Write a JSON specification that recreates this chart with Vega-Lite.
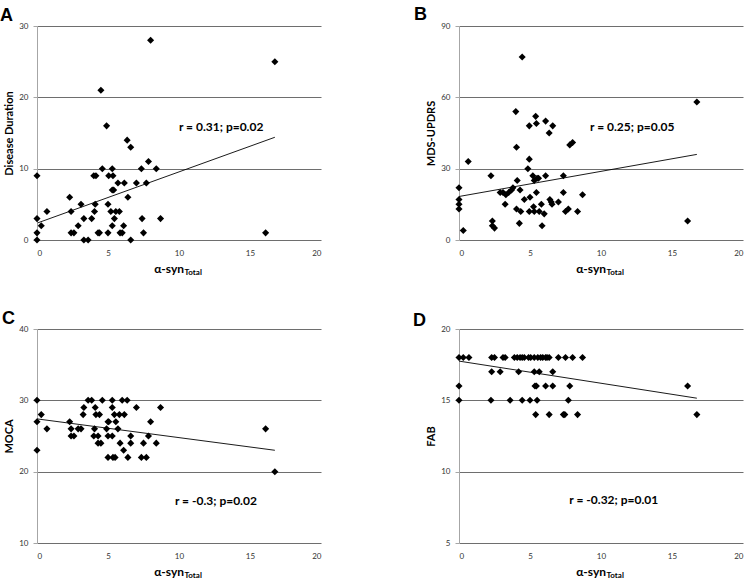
{
  "$schema": "https://vega.github.io/schema/vega-lite/v6.json",
  "background": "white",
  "padding": {"left": 0, "top": 6, "right": 5, "bottom": 0},
  "autosize": {"type": "pad"},
  "columns": 2,
  "bounds": "flush",
  "spacing": {"row": 89, "column": 138},
  "config": {
    "view": {"stroke": null},
    "font": "Lato",
    "title": {"font": "Liberation Sans", "fontSize": 18, "fontWeight": "bold", "anchor": "start", "frame": "group", "baseline": "alphabetic", "color": "black"},
    "axis": {"labelFont": "Lato", "labelFontSize": 8, "labelColor": "#333333", "titleFont": "Lato", "titleFontWeight": "bold", "titleColor": "black"},
    "axisY": {"grid": true, "gridColor": "#6e6e6e", "gridWidth": 1, "domainColor": "#a6a6a6", "tickColor": "#a6a6a6", "tickSize": 4, "labelPadding": 5, "titleFontSize": 11, "titleX": -28, "titleBaseline": "middle", "titleAngle": 270},
    "axisX": {"grid": false, "domain": false, "ticks": false, "labelPadding": 9, "titleFontSize": 12}
  },
  "datasets": {
    "A": [
      {"syn": 0, "v": 9}, {"syn": 0, "v": 3}, {"syn": 0, "v": 1}, {"syn": 0, "v": 0}, {"syn": 0.3, "v": 2}, {"syn": 0.7, "v": 4},
      {"syn": 2.3, "v": 6}, {"syn": 2.4, "v": 4}, {"syn": 2.4, "v": 1}, {"syn": 2.6, "v": 1}, {"syn": 2.9, "v": 2}, {"syn": 3.1, "v": 5},
      {"syn": 3.3, "v": 3}, {"syn": 3.3, "v": 0}, {"syn": 3.6, "v": 0}, {"syn": 3.85, "v": 3}, {"syn": 4.05, "v": 4}, {"syn": 4.0, "v": 9},
      {"syn": 4.15, "v": 9}, {"syn": 4.1, "v": 5}, {"syn": 4.3, "v": 1}, {"syn": 4.4, "v": 1}, {"syn": 4.5, "v": 21}, {"syn": 4.6, "v": 10},
      {"syn": 4.9, "v": 16}, {"syn": 5.0, "v": 1}, {"syn": 5.0, "v": 5}, {"syn": 5.05, "v": 9}, {"syn": 5.3, "v": 10}, {"syn": 5.3, "v": 7},
      {"syn": 5.2, "v": 4}, {"syn": 5.3, "v": 2}, {"syn": 5.35, "v": 9}, {"syn": 5.4, "v": 7}, {"syn": 5.45, "v": 3}, {"syn": 5.55, "v": 4},
      {"syn": 5.7, "v": 8}, {"syn": 5.8, "v": 4}, {"syn": 5.85, "v": 1}, {"syn": 6.0, "v": 1}, {"syn": 6.1, "v": 2}, {"syn": 6.15, "v": 8},
      {"syn": 6.35, "v": 14}, {"syn": 6.4, "v": 6}, {"syn": 6.6, "v": 13}, {"syn": 6.6, "v": 0}, {"syn": 7.0, "v": 8}, {"syn": 7.35, "v": 10},
      {"syn": 7.4, "v": 3}, {"syn": 7.5, "v": 1}, {"syn": 7.7, "v": 8}, {"syn": 7.85, "v": 11}, {"syn": 8.0, "v": 28}, {"syn": 8.4, "v": 10},
      {"syn": 8.7, "v": 3}, {"syn": 16.1, "v": 1}, {"syn": 16.75, "v": 25}
    ],
    "B": [
      {"syn": 0, "v": 22}, {"syn": 0, "v": 17}, {"syn": 0, "v": 15}, {"syn": 0, "v": 13}, {"syn": 0.3, "v": 4}, {"syn": 0.65, "v": 33},
      {"syn": 2.25, "v": 27}, {"syn": 2.35, "v": 8}, {"syn": 2.35, "v": 6}, {"syn": 2.5, "v": 5}, {"syn": 2.9, "v": 20}, {"syn": 3.1, "v": 20},
      {"syn": 3.25, "v": 15}, {"syn": 3.3, "v": 19}, {"syn": 3.5, "v": 20}, {"syn": 3.7, "v": 21}, {"syn": 3.8, "v": 22}, {"syn": 4.0, "v": 54},
      {"syn": 4.05, "v": 39}, {"syn": 4.1, "v": 25}, {"syn": 4.05, "v": 13}, {"syn": 4.25, "v": 7}, {"syn": 4.3, "v": 21}, {"syn": 4.35, "v": 12},
      {"syn": 4.45, "v": 77}, {"syn": 4.6, "v": 17}, {"syn": 4.85, "v": 30}, {"syn": 4.95, "v": 34}, {"syn": 4.95, "v": 48}, {"syn": 4.95, "v": 12},
      {"syn": 5.0, "v": 18}, {"syn": 5.2, "v": 27}, {"syn": 5.25, "v": 14}, {"syn": 5.3, "v": 25}, {"syn": 5.3, "v": 12}, {"syn": 5.4, "v": 52},
      {"syn": 5.45, "v": 49}, {"syn": 5.45, "v": 20}, {"syn": 5.5, "v": 26}, {"syn": 5.6, "v": 26}, {"syn": 5.65, "v": 12}, {"syn": 5.8, "v": 15},
      {"syn": 5.85, "v": 6}, {"syn": 6.0, "v": 11}, {"syn": 6.1, "v": 50}, {"syn": 6.1, "v": 27}, {"syn": 6.35, "v": 45}, {"syn": 6.4, "v": 17},
      {"syn": 6.5, "v": 16}, {"syn": 6.6, "v": 48}, {"syn": 6.55, "v": 15}, {"syn": 7.0, "v": 16}, {"syn": 7.35, "v": 27}, {"syn": 7.35, "v": 20},
      {"syn": 7.5, "v": 12}, {"syn": 7.7, "v": 13}, {"syn": 7.8, "v": 40}, {"syn": 8.0, "v": 41}, {"syn": 8.35, "v": 12}, {"syn": 8.7, "v": 19},
      {"syn": 16.1, "v": 8}, {"syn": 16.75, "v": 58}
    ],
    "C": [
      {"syn": 0, "v": 30}, {"syn": 0, "v": 27}, {"syn": 0, "v": 23}, {"syn": 0.3, "v": 28}, {"syn": 0.7, "v": 26}, {"syn": 2.3, "v": 27},
      {"syn": 2.4, "v": 26}, {"syn": 2.4, "v": 25}, {"syn": 2.6, "v": 25}, {"syn": 2.9, "v": 26}, {"syn": 3.1, "v": 26}, {"syn": 3.25, "v": 28},
      {"syn": 3.3, "v": 29}, {"syn": 3.6, "v": 30}, {"syn": 3.85, "v": 30}, {"syn": 4.05, "v": 26}, {"syn": 4.0, "v": 25}, {"syn": 4.1, "v": 29},
      {"syn": 4.15, "v": 28}, {"syn": 4.3, "v": 25}, {"syn": 4.3, "v": 24}, {"syn": 4.4, "v": 28}, {"syn": 4.5, "v": 24}, {"syn": 4.6, "v": 30},
      {"syn": 4.9, "v": 26}, {"syn": 5.0, "v": 27}, {"syn": 5.0, "v": 25}, {"syn": 5.05, "v": 27}, {"syn": 5.0, "v": 22}, {"syn": 5.3, "v": 30},
      {"syn": 5.3, "v": 29}, {"syn": 5.3, "v": 25}, {"syn": 5.35, "v": 22}, {"syn": 5.45, "v": 28}, {"syn": 5.5, "v": 22}, {"syn": 5.55, "v": 27},
      {"syn": 5.7, "v": 26}, {"syn": 5.8, "v": 28}, {"syn": 5.85, "v": 24}, {"syn": 6.0, "v": 30}, {"syn": 6.1, "v": 23}, {"syn": 6.15, "v": 28},
      {"syn": 6.35, "v": 30}, {"syn": 6.4, "v": 22}, {"syn": 6.6, "v": 25}, {"syn": 6.6, "v": 24}, {"syn": 7.0, "v": 29}, {"syn": 7.35, "v": 22},
      {"syn": 7.5, "v": 24}, {"syn": 7.7, "v": 22}, {"syn": 7.85, "v": 25}, {"syn": 8.0, "v": 27}, {"syn": 8.4, "v": 24}, {"syn": 8.7, "v": 29},
      {"syn": 16.1, "v": 26}, {"syn": 16.75, "v": 20}
    ],
    "D": [
      {"syn": 0, "v": 18}, {"syn": 0.3, "v": 18}, {"syn": 0.7, "v": 18}, {"syn": 2.3, "v": 18}, {"syn": 2.5, "v": 18}, {"syn": 3.1, "v": 18},
      {"syn": 3.25, "v": 18}, {"syn": 3.9, "v": 18}, {"syn": 4.1, "v": 18}, {"syn": 4.3, "v": 18}, {"syn": 4.45, "v": 18}, {"syn": 4.6, "v": 18},
      {"syn": 4.9, "v": 18}, {"syn": 5.05, "v": 18}, {"syn": 5.3, "v": 18}, {"syn": 5.55, "v": 18}, {"syn": 5.75, "v": 18}, {"syn": 5.9, "v": 18},
      {"syn": 6.1, "v": 18}, {"syn": 6.2, "v": 18}, {"syn": 6.35, "v": 18}, {"syn": 7.0, "v": 18}, {"syn": 7.5, "v": 18}, {"syn": 8.0, "v": 18},
      {"syn": 8.7, "v": 18},
      {"syn": 2.3, "v": 17}, {"syn": 2.9, "v": 17}, {"syn": 4.2, "v": 17}, {"syn": 5.3, "v": 17}, {"syn": 5.65, "v": 17}, {"syn": 6.6, "v": 17},
      {"syn": 0, "v": 16}, {"syn": 5.35, "v": 16}, {"syn": 5.45, "v": 16}, {"syn": 6.1, "v": 16}, {"syn": 6.6, "v": 16}, {"syn": 7.8, "v": 16},
      {"syn": 16.1, "v": 16},
      {"syn": 0, "v": 15}, {"syn": 2.25, "v": 15}, {"syn": 3.6, "v": 15}, {"syn": 4.45, "v": 15}, {"syn": 5.0, "v": 15}, {"syn": 5.5, "v": 15},
      {"syn": 7.7, "v": 15},
      {"syn": 5.4, "v": 14}, {"syn": 6.35, "v": 14}, {"syn": 7.35, "v": 14}, {"syn": 7.45, "v": 14}, {"syn": 8.35, "v": 14}, {"syn": 16.75, "v": 14}
    ],
    "Aline": [{"syn": 0.05, "v": 2.4}, {"syn": 16.75, "v": 14.4}],
    "Bline": [{"syn": 0, "v": 18.3}, {"syn": 16.75, "v": 36}],
    "Cline": [{"syn": 0, "v": 27.4}, {"syn": 16.75, "v": 23.0}],
    "Dline": [{"syn": 0, "v": 17.75}, {"syn": 16.75, "v": 15.15}],
    "Alab": [{"syn": 12.97, "v": 15.9, "label": "r = 0.31; p=0.02"}],
    "Blab": [{"syn": 12.2, "v": 47.7, "label": "r = 0.25; p=0.05"}],
    "Clab": [{"syn": 12.6, "v": 15.9, "label": "r = -0.3; p=0.02"}],
    "Dlab": [{"syn": 10.9, "v": 8.0, "label": "r = -0.32; p=0.01"}]
  },
  "concat": [
    {
      "width": 284, "height": 214,
      "title": {"text": "A", "dx": -37, "offset": -3},
      "resolve": {"axis": {"x": "independent"}},
      "layer": [
        {"data": {"name": "A"}, "mark": {"type": "point", "shape": "diamond", "filled": true, "color": "black", "opacity": 1, "size": 50},
         "encoding": {
           "x": {"field": "syn", "type": "quantitative", "scale": {"domain": [0, 20]}, "axis": {"orient": "bottom", "values": [0, 5, 10, 15, 20], "title": "α-syn", "titleAlign": "right", "titleX": 146.5, "titleY": 32, "titleBaseline": "alphabetic"}},
           "y": {"field": "v", "type": "quantitative", "scale": {"domain": [0, 30]}, "axis": {"values": [0, 10, 20, 30], "title": "Disease Duration"}}}},
        {"data": {"name": "Aline"}, "mark": {"type": "line", "color": "black", "strokeWidth": 0.9},
         "encoding": {"x": {"field": "syn", "type": "quantitative", "scale": {"domain": [0, 20]}, "axis": null}, "y": {"field": "v", "type": "quantitative", "scale": {"domain": [0, 30]}}}},
        {"data": {"name": "Alab"}, "mark": {"type": "text", "font": "Lato", "fontWeight": "bold", "fontSize": 12, "color": "black", "align": "center", "baseline": "middle"},
         "encoding": {
           "x": {"field": "syn", "type": "quantitative", "scale": {"domain": [0, 20]}, "axis": {"orient": "bottom", "title": "Total", "labels": false, "ticks": false, "domain": false, "grid": false, "titleFontSize": 8, "titleAlign": "left", "titleX": 147, "titleY": 34.5, "titleBaseline": "alphabetic"}},
           "y": {"field": "v", "type": "quantitative", "scale": {"domain": [0, 30]}},
           "text": {"field": "label"}}}
      ]
    },
    {
      "width": 284, "height": 214,
      "title": {"text": "B", "dx": -45, "offset": -2},
      "resolve": {"axis": {"x": "independent"}},
      "layer": [
        {"data": {"name": "B"}, "mark": {"type": "point", "shape": "diamond", "filled": true, "color": "black", "opacity": 1, "size": 50},
         "encoding": {
           "x": {"field": "syn", "type": "quantitative", "scale": {"domain": [0, 20]}, "axis": {"orient": "bottom", "values": [0, 5, 10, 15, 20], "title": "α-syn", "titleAlign": "right", "titleX": 146.5, "titleY": 32, "titleBaseline": "alphabetic"}},
           "y": {"field": "v", "type": "quantitative", "scale": {"domain": [0, 90]}, "axis": {"values": [0, 30, 60, 90], "title": "MDS-UPDRS"}}}},
        {"data": {"name": "Bline"}, "mark": {"type": "line", "color": "black", "strokeWidth": 0.9},
         "encoding": {"x": {"field": "syn", "type": "quantitative", "scale": {"domain": [0, 20]}, "axis": null}, "y": {"field": "v", "type": "quantitative", "scale": {"domain": [0, 90]}}}},
        {"data": {"name": "Blab"}, "mark": {"type": "text", "font": "Lato", "fontWeight": "bold", "fontSize": 12, "color": "black", "align": "center", "baseline": "middle"},
         "encoding": {
           "x": {"field": "syn", "type": "quantitative", "scale": {"domain": [0, 20]}, "axis": {"orient": "bottom", "title": "Total", "labels": false, "ticks": false, "domain": false, "grid": false, "titleFontSize": 8, "titleAlign": "left", "titleX": 147, "titleY": 34.5, "titleBaseline": "alphabetic"}},
           "y": {"field": "v", "type": "quantitative", "scale": {"domain": [0, 90]}},
           "text": {"field": "label"}}}
      ]
    },
    {
      "width": 284, "height": 214,
      "title": {"text": "C", "dx": -35, "offset": -3},
      "resolve": {"axis": {"x": "independent"}},
      "layer": [
        {"data": {"name": "C"}, "mark": {"type": "point", "shape": "diamond", "filled": true, "color": "black", "opacity": 1, "size": 50},
         "encoding": {
           "x": {"field": "syn", "type": "quantitative", "scale": {"domain": [0, 20]}, "axis": {"orient": "bottom", "values": [0, 5, 10, 15, 20], "title": "α-syn", "titleAlign": "right", "titleX": 146.5, "titleY": 32, "titleBaseline": "alphabetic"}},
           "y": {"field": "v", "type": "quantitative", "scale": {"domain": [10, 40]}, "axis": {"values": [10, 20, 30, 40], "title": "MOCA"}}}},
        {"data": {"name": "Cline"}, "mark": {"type": "line", "color": "black", "strokeWidth": 0.9},
         "encoding": {"x": {"field": "syn", "type": "quantitative", "scale": {"domain": [0, 20]}, "axis": null}, "y": {"field": "v", "type": "quantitative", "scale": {"domain": [10, 40]}}}},
        {"data": {"name": "Clab"}, "mark": {"type": "text", "font": "Lato", "fontWeight": "bold", "fontSize": 12, "color": "black", "align": "center", "baseline": "middle"},
         "encoding": {
           "x": {"field": "syn", "type": "quantitative", "scale": {"domain": [0, 20]}, "axis": {"orient": "bottom", "title": "Total", "labels": false, "ticks": false, "domain": false, "grid": false, "titleFontSize": 8, "titleAlign": "left", "titleX": 147, "titleY": 34.5, "titleBaseline": "alphabetic"}},
           "y": {"field": "v", "type": "quantitative", "scale": {"domain": [10, 40]}},
           "text": {"field": "label"}}}
      ]
    },
    {
      "width": 284, "height": 214,
      "title": {"text": "D", "dx": -46, "offset": -5},
      "resolve": {"axis": {"x": "independent"}},
      "layer": [
        {"data": {"name": "D"}, "mark": {"type": "point", "shape": "diamond", "filled": true, "color": "black", "opacity": 1, "size": 50},
         "encoding": {
           "x": {"field": "syn", "type": "quantitative", "scale": {"domain": [0, 20]}, "axis": {"orient": "bottom", "values": [0, 5, 10, 15, 20], "title": "α-syn", "titleAlign": "right", "titleX": 146.5, "titleY": 32, "titleBaseline": "alphabetic"}},
           "y": {"field": "v", "type": "quantitative", "scale": {"domain": [5, 20]}, "axis": {"values": [5, 10, 15, 20], "title": "FAB"}}}},
        {"data": {"name": "Dline"}, "mark": {"type": "line", "color": "black", "strokeWidth": 0.9},
         "encoding": {"x": {"field": "syn", "type": "quantitative", "scale": {"domain": [0, 20]}, "axis": null}, "y": {"field": "v", "type": "quantitative", "scale": {"domain": [5, 20]}}}},
        {"data": {"name": "Dlab"}, "mark": {"type": "text", "font": "Lato", "fontWeight": "bold", "fontSize": 12, "color": "black", "align": "center", "baseline": "middle"},
         "encoding": {
           "x": {"field": "syn", "type": "quantitative", "scale": {"domain": [0, 20]}, "axis": {"orient": "bottom", "title": "Total", "labels": false, "ticks": false, "domain": false, "grid": false, "titleFontSize": 8, "titleAlign": "left", "titleX": 147, "titleY": 34.5, "titleBaseline": "alphabetic"}},
           "y": {"field": "v", "type": "quantitative", "scale": {"domain": [5, 20]}},
           "text": {"field": "label"}}}
      ]
    }
  ]
}
